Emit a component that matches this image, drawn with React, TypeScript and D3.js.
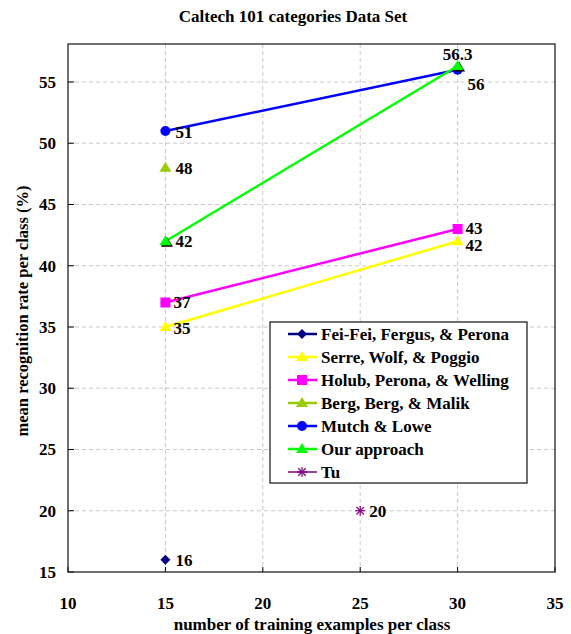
import React from 'react'
import * as d3 from 'd3'

// series data: [training examples, rate]
const feiFei: [number, number][] = [[15, 16]]
const serre: [number, number][] = [[15, 35], [30, 42]]
const holub: [number, number][] = [[15, 37], [30, 43]]
const berg: [number, number][] = [[15, 48]]
const mutch: [number, number][] = [[15, 51], [30, 56]]
const ours: [number, number][] = [[15, 42], [30, 56.3]]
const tu: [number, number][] = [[25, 20]]

const xTicks = [10, 15, 20, 25, 30, 35]
const yTicks = [15, 20, 25, 30, 35, 40, 45, 50, 55]

const legendNames = [
    'Fei-Fei, Fergus, & Perona',
    'Serre, Wolf, & Poggio',
    'Holub, Perona, & Welling',
    'Berg, Berg, & Malik',
    'Mutch & Lowe',
    'Our approach',
    'Tu',
]

type Series = { name: string, data: [number, number][], color: string, marker: string, labels: { dx: number, dy: number, anchor?: string }[] }

const series: Series[] = [
    { name: legendNames[0], data: feiFei, color: '#000080', marker: 'diamond', labels: [{ dx: 10, dy: 6 }] },
    { name: legendNames[1], data: serre, color: '#ffff00', marker: 'triangle', labels: [{ dx: 8, dy: 7 }, { dx: 8, dy: 10 }] },
    { name: legendNames[2], data: holub, color: '#ff00ff', marker: 'square', labels: [{ dx: 8, dy: 6 }, { dx: 8, dy: 5 }] },
    { name: legendNames[3], data: berg, color: '#99cc00', marker: 'triangle', labels: [{ dx: 10, dy: 6 }] },
    { name: legendNames[4], data: mutch, color: '#0000ff', marker: 'circle', labels: [{ dx: 10, dy: 7 }, { dx: 10, dy: 20 }] },
    { name: legendNames[5], data: ours, color: '#00ff00', marker: 'triangle2', labels: [{ dx: 10, dy: 6 }, { dx: 0, dy: -6, anchor: 'middle' }] },
    { name: legendNames[6], data: tu, color: '#800080', marker: 'star', labels: [{ dx: 9, dy: 6 }] },
]

const font = '"Liberation Serif", "Times New Roman", serif'

const Marker = ({ type, x, y, color }: { type: string, x: number, y: number, color: string }) => {
    if (type === 'diamond') {
        const s = 5
        return <path d={`M${x},${y - s}L${x + s},${y}L${x},${y + s}L${x - s},${y}Z`} fill={color} />
    }
    if (type === 'square') return <rect x={x - 5} y={y - 5} width={10} height={10} fill={color} />
    if (type === 'circle') return <circle cx={x} cy={y} r={5} fill={color} />
    if (type === 'triangle' || type === 'triangle2') {
        const tri = (ox: number, oy: number) => `M${x + ox},${y - 6 + oy}L${x + 6 + ox},${y + 4 + oy}L${x - 6 + ox},${y + 4 + oy}Z`
        return <g>
            {type === 'triangle2' && <path d={tri(1.5, 1.5)} fill="#000" />}
            <path d={tri(0, 0)} fill={color} />
        </g>
    }
    if (type === 'star') {
        const s = 5
        return <g stroke={color} strokeWidth={1.2}>
            <line x1={x - s} y1={y} x2={x + s} y2={y} />
            <line x1={x} y1={y - s} x2={x} y2={y + s} />
            <line x1={x - s * 0.75} y1={y - s * 0.75} x2={x + s * 0.75} y2={y + s * 0.75} />
            <line x1={x - s * 0.75} y1={y + s * 0.75} x2={x + s * 0.75} y2={y - s * 0.75} />
        </g>
    }
    return null
}

const App = () => {
    const width = 571, height = 634
    const left = 68, right = 555, top = 44, bottom = 572

    const x = d3.scaleLinear().domain([10, 35]).range([left, right])
    const y = d3.scaleLinear().domain([15, 58.1]).range([bottom, top])

    const line = d3.line<[number, number]>().x(d => x(d[0])).y(d => y(d[1]))

    const legX = 270, legY = 322, legW = 257, legH = 161
    const rowH = 23

    return (
        <svg width={width} height={height} style={{ position: 'absolute', left: 0, top: 0 }} fontFamily={font} fontWeight="bold">
            <rect width={width} height={height} fill="#fff" />
            <text x={293} y={22} textAnchor="middle" fontSize={17}>Caltech 101 categories Data Set</text>

            {/* grid */}
            {xTicks.slice(1, -1).map(t => (
                <line key={'gx' + t} x1={x(t)} x2={x(t)} y1={top} y2={bottom} stroke="#c8c8c8" strokeDasharray="4,3" />
            ))}
            {yTicks.slice(1).map(t => (
                <line key={'gy' + t} x1={left} x2={right} y1={y(t)} y2={y(t)} stroke="#c8c8c8" strokeDasharray="4,3" />
            ))}

            {/* ticks */}
            {xTicks.map(t => (
                <g key={'tx' + t}>
                    <line x1={x(t)} x2={x(t)} y1={bottom} y2={bottom - 5} stroke="#000" />
                    <text x={x(t)} y={bottom + 37} textAnchor="middle" fontSize={17}>{t}</text>
                </g>
            ))}
            {yTicks.map(t => (
                <g key={'ty' + t}>
                    <line x1={left} x2={left + 6} y1={y(t)} y2={y(t)} stroke="#000" />
                    <text x={left - 12} y={y(t) + 6} textAnchor="end" fontSize={17}>{t}</text>
                </g>
            ))}

            <rect x={left} y={top} width={right - left} height={bottom - top} fill="none" stroke="#222" strokeWidth={1.3} />

            {/* series */}
            {series.map(s => (
                <g key={s.name}>
                    {s.data.length > 1 && <path d={line(s.data) || ''} fill="none" stroke={s.color} strokeWidth={2.5} />}
                    {s.data.map((d, i) => (
                        <Marker key={i} type={s.marker} x={x(d[0])} y={y(d[1])} color={s.color} />
                    ))}
                    {s.data.map((d, i) => (
                        <text key={'l' + i} x={x(d[0]) + s.labels[i].dx} y={y(d[1]) + s.labels[i].dy}
                            textAnchor={s.labels[i].anchor || 'start'} fontSize={17}>{d[1]}</text>
                    ))}
                </g>
            ))}

            {/* legend */}
            <rect x={legX} y={legY} width={legW} height={legH} fill="#fff" stroke="#222" strokeWidth={1.3} />
            {series.map((s, i) => {
                const cy = legY + 12 + i * rowH
                return (
                    <g key={'lg' + i}>
                        <line x1={legX + 18} x2={legX + 47} y1={cy} y2={cy} stroke={s.color} strokeWidth={s.marker === 'star' ? 1.5 : 2.5} />
                        <Marker type={s.marker === 'triangle2' ? 'triangle' : s.marker} x={legX + 32} y={cy} color={s.color} />
                        <text x={legX + 51} y={cy + 6} fontSize={17}>{s.name}</text>
                    </g>
                )
            })}

            <text x={312} y={630} textAnchor="middle" fontSize={17}>number of training examples per class</text>
            <text transform={`translate(28,311) rotate(-90)`} textAnchor="middle" fontSize={16.5}>mean recognition rate per class (%)</text>
        </svg>
    )
}

export default App
